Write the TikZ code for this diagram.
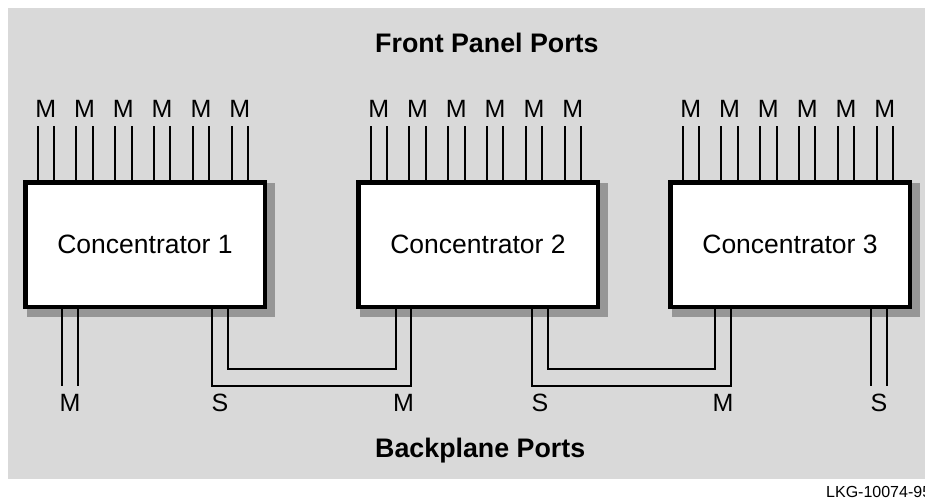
\documentclass[tikz,border=0pt]{standalone}
\usepackage{fontspec}
\setmainfont{Liberation Sans}
\usetikzlibrary{backgrounds}
\definecolor{panelgray}{RGB}{217,217,217}
\definecolor{shadowgray}{RGB}{150,150,150}
\tikzset{
  concbox/.style={draw, line width=4.5pt, fill=white, minimum width=239.5pt, minimum height=124.5pt, inner sep=0pt, font=\fontsize{26.5}{31}\selectfont},
  portlbl/.style={font=\fontsize{25}{29}\selectfont, inner sep=0pt},
  port/.style={line width=2pt},
  heading/.style={font=\bfseries\fontsize{26.8}{31}\selectfont, inner sep=0pt},
  tag/.style={font=\fontsize{16}{19}\selectfont, inner sep=0pt}
}
\begin{document}
\begin{tikzpicture}[x=1pt,y=-1pt]
\useasboundingbox (0,0) rectangle (925,500);
% boxes
\node[concbox] (c1) at (145,244.5) {Concentrator 1};
\node[concbox] (c2) at (478,244.5) {Concentrator 2};
\node[concbox] (c3) at (790,244.5) {Concentrator 3};
% headings
\node[heading, anchor=base west] (front) at (375,53) {Front Panel Ports};
\node[heading, anchor=base west] (back) at (375,457) {Backplane Ports};
\node[tag, anchor=base west] (lkg) at (826,497) {LKG-10074-95};
% front panel ports
\foreach \b in {c1,c2,c3}{
  \foreach \i in {0,...,5}{
    \draw[port] ([xshift={14.5pt+38.8pt*\i}]\b.north west) -- ++(0,-54);
    \draw[port] ([xshift={31pt+38.8pt*\i}]\b.north west) -- ++(0,-54);
    \node[portlbl] (\b-m\i) at ([xshift={22.75pt+38.8pt*\i}, yshift=71pt]\b.north west) {M};
  }
}
% backplane ports
\draw[port] ([xshift=39pt]c1.south west) -- ++(0,77);
\draw[port] ([xshift=55pt]c1.south west) -- ++(0,77);
\node[portlbl] (b1) at ([xshift=47pt, yshift=-94pt]c1.south west) {M};
\draw[port] ([xshift=189pt]c1.south west) -- ++(0,77) -| ([xshift=55pt]c2.south west);
\draw[port] ([xshift=205pt]c1.south west) -- ++(0,60) -| ([xshift=40pt]c2.south west);
\node[portlbl] (b2) at ([xshift=197pt, yshift=-94pt]c1.south west) {S};
\node[portlbl] (b3) at ([xshift=47.5pt, yshift=-94pt]c2.south west) {M};
\draw[port] ([xshift=176pt]c2.south west) -- ++(0,77) -| ([xshift=63pt]c3.south west);
\draw[port] ([xshift=192pt]c2.south west) -- ++(0,60) -| ([xshift=47pt]c3.south west);
\node[portlbl] (b4) at ([xshift=184pt, yshift=-94pt]c2.south west) {S};
\node[portlbl] (b5) at ([xshift=55pt, yshift=-94pt]c3.south west) {M};
\draw[port] ([xshift=203pt]c3.south west) -- ++(0,77);
\draw[port] ([xshift=219pt]c3.south west) -- ++(0,77);
\node[portlbl] (b6) at ([xshift=211pt, yshift=-94pt]c3.south west) {S};
% background and shadows
\begin{scope}[on background layer]
  \fill[white] (0,0) rectangle (925,500);
  \fill[panelgray] (8,8) rectangle (925,479);
  \foreach \b in {c1,c2,c3}{
    \fill[shadowgray] ([shift={(4,3)}]\b.north west) rectangle ([shift={(8,8)}]\b.south east);
  }
\end{scope}
\end{tikzpicture}
\end{document}
